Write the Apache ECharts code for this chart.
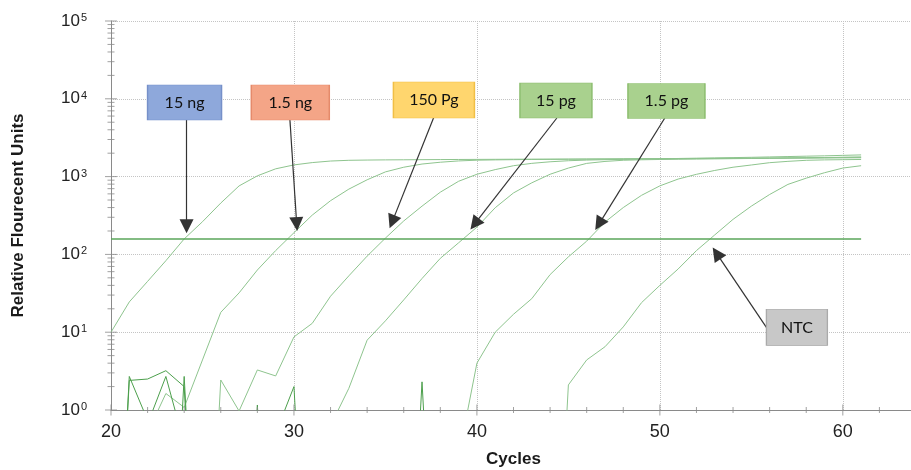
<!DOCTYPE html>
<html>
<head>
<meta charset="utf-8">
<script src="https://cdn.jsdelivr.net/npm/echarts@6/dist/echarts.min.js"></script>
<style>
html,body{margin:0;padding:0;background:#fff;}
#chart{width:911px;height:470px;}
</style>
</head>
<body>
<div id="chart"></div>
<script>
// ---------- data ----------
const curveStart = [20, 22, 25, 32, 39, 44];          // first cycle of each curve array
const curve15ng  = [10,24.5,45,83,158,263,457,759,1023,1259,1413,1514,1585,1620,1632,1640,1645,1650,1655,1660,1664,1668,1672,1675,1678,1681,1684,1688,1692,1696,1700,1704,1708,1712,1716,1720,1724,1728,1732,1736,1740,1745];
const curve1p5ng = [0.51,1.63,1.08,4.4,18,32,63,112,190,320,490,690,910,1150,1320,1450,1530,1590,1625,1640,1650,1660,1665,1670,1675,1680,1685,1690,1695,1700,1705,1710,1716,1722,1730,1740,1750,1760,1770,1780];
const curve150pg = [0.0001,2.43,0.97,3.27,2.74,8.7,13,29,53,95,162,269,417,631,871,1072,1230,1380,1480,1550,1600,1630,1650,1665,1680,1695,1710,1725,1740,1755,1770,1790,1810,1830,1850,1875,1900];
const curve15pg  = [0.63,1.9,7.9,14,26,49,89,141,224,398,617,832,1072,1288,1479,1567,1622,1645,1660,1670,1680,1690,1700,1710,1720,1730,1740,1750,1765,1780];
const curve1p5pg = [0.25,4,10,17,27,55,93,148,260,400,575,760,930,1070,1200,1320,1410,1510,1570,1620,1640,1650,1660];
const curveLate  = [0.0001,2.1,4.4,6.5,11.7,24,40,65,112,178,282,417,589,794,955,1122,1288,1380];

const noiseStart = [20, 20, 23, 22, 27, 29, 36];
const noise1 = [0.0001, 2.7, 0.74];
const noise2 = [0.0001, 2.4, 2.5, 3.2, 2.0, 0.0001];
const noise3 = [0.0001, 2.7, 0.0001];
const noise4 = [0.66, 2.7, 0.37];
const noise5 = [0.0001, 1.16, 0.0001];
const noise6 = [0.5, 2.0, 0.0001];
const noise7 = [0.0001, 2.3, 0.0001];

const thresholdValue = 158;
const thresholdRange = [20, 61];

const boxLabels  = ['15 ng', '1.5 ng', '150 Pg', '15 pg', '1.5 pg', 'NTC'];
const boxAnchors = [[24.02, 8960], [29.8, 8960], [37.65, 9660], [44.32, 9510], [50.36, 9370], [57.49, 11.5]];
const arrowFrom  = [[24.13, 5340], [29.78, 5340], [37.65, 5840], [44.37, 5665], [50.27, 5665], [55.85, 11.3]];
const arrowTo    = [[24.13, 230], [30.15, 245], [35.37, 262], [39.88, 246], [46.67, 245], [53.1, 103]];

const yDecades = [1, 10, 100, 1000, 10000, 100000];
const xRange = [20, 64];

// ---------- styles ----------
const boxStyles = [
  {w: 74, h: 35, fill: '#8ea8db', border: '#7690c9'},
  {w: 78, h: 35, fill: '#f4a587', border: '#e58a6b'},
  {w: 81, h: 36, fill: '#ffd66e', border: '#f1bf45'},
  {w: 72, h: 35, fill: '#a9d18e', border: '#8cbd6e'},
  {w: 77, h: 35, fill: '#a9d18e', border: '#8cbd6e'},
  {w: 61, h: 36, fill: '#c8c8c8', border: '#aaaaaa'}
];
const curveColor = '#8ec48e';
const noiseColor = '#4c9f4c';
const axisColor = '#8a8a8a';
const font = 'Liberation Sans';

function pairs(start, vals) { return vals.map((v, i) => [start + i, v]); }

const curves = [curve15ng, curve1p5ng, curve150pg, curve15pg, curve1p5pg, curveLate];
const noises = [noise1, noise2, noise3, noise4, noise5, noise6, noise7];

const series = [];
curves.forEach((c, i) => series.push({
  type: 'line', data: pairs(curveStart[i], c), symbol: 'none', silent: true, z: 2,
  lineStyle: {color: curveColor, width: 1}, clip: true
}));
noises.forEach((c, i) => series.push({
  type: 'line', data: pairs(noiseStart[i], c), symbol: 'none', silent: true, z: 2,
  lineStyle: {color: noiseColor, width: 1}, clip: true
}));

// tick marks drawn as small marks through the axes' scales
const yTicks = [];
yDecades.forEach((d, i) => {
  yTicks.push({value: [xRange[0], d], symbolSize: [12, 1]});
  if (i < yDecades.length - 1) for (let k = 2; k <= 9; k++) yTicks.push({value: [xRange[0], k * d], symbolSize: [7, 1]});
});
const xTicks = [];
for (let c = xRange[0]; c <= xRange[1]; c += 2) xTicks.push({value: [c, yDecades[0]], symbolSize: c % 10 === 0 ? [1, 11] : [1, 6]});

series.push({type: 'scatter', data: yTicks, symbol: 'rect', silent: true, clip: false, z: 3, itemStyle: {color: axisColor}});
series.push({type: 'scatter', data: xTicks, symbol: 'rect', silent: true, clip: false, z: 3, itemStyle: {color: axisColor}});

series.push({
  type: 'line', z: 4, silent: true, symbol: 'none',
  data: [[thresholdRange[0], thresholdValue], [thresholdRange[1], thresholdValue]],
  lineStyle: {color: '#5aa65a', width: 1.6},
  markLine: {
    silent: true, symbol: ['none', 'triangle'], symbolSize: 14, animation: false,
    lineStyle: {color: '#333', width: 1.2, type: 'solid'},
    label: {show: false},
    data: arrowFrom.map((f, i) => [{coord: f}, {coord: arrowTo[i]}])
  },
  markPoint: {
    silent: true, animation: false,
    data: boxLabels.map((t, i) => ({
      name: t, coord: boxAnchors[i], symbol: 'rect', symbolSize: [boxStyles[i].w, boxStyles[i].h],
      itemStyle: {color: boxStyles[i].fill, borderColor: boxStyles[i].border, borderWidth: 1}
    })),
    label: {show: true, position: 'inside', formatter: '{b}', fontSize: 16, fontFamily: 'Lato', color: '#111'}
  }
});

const chart = echarts.init(document.getElementById('chart'), null, {renderer: 'canvas'});
chart.setOption({
  animation: false,
  backgroundColor: '#fff',
  grid: {left: 111, right: -5, top: 21, bottom: 60, containLabel: false, outerBoundsMode: 'none'},
  xAxis: {
    type: 'value', min: xRange[0], max: xRange[1], interval: 10,
    name: 'Cycles', nameLocation: 'middle', nameGap: 41,
    nameTextStyle: {fontSize: 17, fontWeight: 'bold', fontFamily: font, color: '#1a1a1a'},
    axisLine: {lineStyle: {color: axisColor, width: 1}},
    axisTick: {show: false},
    axisLabel: {fontSize: 18, fontFamily: font, color: '#222', margin: 13, showMaxLabel: false,
      formatter: v => (v % 10 === 0 ? String(v) : '')},
    splitLine: {show: true, lineStyle: {color: '#c4c4c4', type: 'dotted', width: 1}}
  },
  yAxis: {
    type: 'log', logBase: 10, min: yDecades[0], max: yDecades[yDecades.length - 1],
    name: 'Relative Flourecent Units', nameLocation: 'middle', nameGap: 84,
    nameTextStyle: {fontSize: 17, fontWeight: 'bold', fontFamily: font, color: '#1a1a1a'},
    axisLine: {show: true, lineStyle: {color: axisColor, width: 1}},
    axisTick: {show: false},
    axisLabel: {
      margin: 24,
      formatter: v => '{b|10}{s|' + Math.round(Math.log10(v)) + '}',
      rich: {
        b: {fontSize: 17, fontFamily: font, color: '#222', lineHeight: 17, verticalAlign: 'bottom'},
        s: {fontSize: 11, fontFamily: font, color: '#222', lineHeight: 11, verticalAlign: 'top', padding: [0, 0, 10, 1]}
      }
    },
    splitLine: {show: true, lineStyle: {color: '#c4c4c4', type: 'dotted', width: 1}}
  },
  series: series
});
</script>
</body>
</html>
